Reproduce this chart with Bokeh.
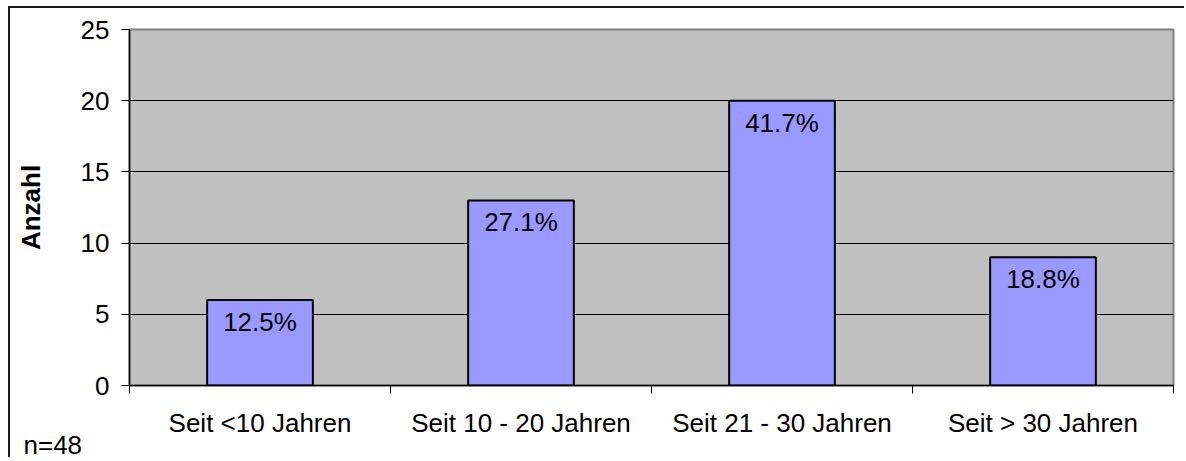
from bokeh.plotting import figure
from bokeh.models import ColumnDataSource, FixedTicker, Range1d, LabelSet, Title
from bokeh.core.properties import value
from bokeh.embed import file_html
from bokeh.resources import INLINE
import numpy as np

categories = ["Seit <10 Jahren", "Seit 10 - 20 Jahren", "Seit 21 - 30 Jahren", "Seit > 30 Jahren"]
counts = [6, 13, 20, 9]
percent_labels = ["12.5%", "27.1%", "41.7%", "18.8%"]
y_ticks = [0, 5, 10, 15, 20, 25]
n_label = "n=48"

FONT = "Liberation Sans"
FS = "26px"

xpos = np.arange(len(categories)) + 0.5
src = ColumnDataSource(dict(x=xpos, top=counts, lab=percent_labels))

p = figure(width=1176, height=451, output_backend="svg", toolbar_location=None,
           x_range=Range1d(0, len(categories)), y_range=Range1d(0, 25),
           min_border_left=119, min_border_right=13, min_border_top=21, min_border_bottom=74)
p.styles = {"border-top": "2px solid #1a1a1a", "border-left": "2px solid #1a1a1a",
            "margin-left": "8px", "margin-top": "6px"}

p.background_fill_color = "#C0C0C0"
p.border_fill_color = "white"
p.outline_line_color = "#808080"
p.outline_line_width = 2

p.vbar(x="x", top="top", width=0.405, bottom=0, source=src,
       fill_color="#9999FF", line_color="black", line_width=2)

p.add_layout(LabelSet(x="x", y="top", text="lab", source=src, y_offset=-31,
                      text_align="center", text_baseline="alphabetic",
                      text_font=value(FONT), text_font_size=value(FS), text_color="black"))

# y axis
p.yaxis.ticker = FixedTicker(ticks=y_ticks)
p.yaxis.minor_tick_line_color = None
p.yaxis.major_tick_in = 0
p.yaxis.major_tick_out = 8
p.yaxis.major_label_standoff = 12
p.yaxis.major_label_text_font = FONT
p.yaxis.major_label_text_font_size = FS
p.yaxis.major_label_text_color = "black"
p.yaxis.axis_line_color = "black"
p.yaxis.axis_line_width = 1.5
p.yaxis.axis_label = "Anzahl"
p.yaxis.axis_label_text_font = FONT
p.yaxis.axis_label_text_font_size = FS
p.yaxis.axis_label_text_font_style = "bold"
p.yaxis.axis_label_text_color = "black"
p.yaxis.axis_label_standoff = 32

# x axis
p.xaxis.ticker = FixedTicker(ticks=list(xpos), minor_ticks=list(range(len(categories) + 1)))
p.xaxis.major_label_overrides = {float(x): c for x, c in zip(xpos, categories)}
p.xaxis.major_tick_line_color = None
p.xaxis.major_tick_out = 8
p.xaxis.minor_tick_in = 0
p.xaxis.minor_tick_out = 8
p.xaxis.minor_tick_line_color = "black"
p.xaxis.major_label_standoff = 14
p.xaxis.major_label_text_font = FONT
p.xaxis.major_label_text_font_size = FS
p.xaxis.major_label_text_color = "black"
p.xaxis.axis_line_color = "black"
p.xaxis.axis_line_width = 1.5

p.xgrid.grid_line_color = None
p.ygrid.ticker = FixedTicker(ticks=y_ticks[1:-1])
p.ygrid.grid_line_color = "black"
p.ygrid.grid_line_width = 1

# sample size note, bottom-left
p.add_layout(Title(text=n_label, align="left", offset=-106, standoff=-22, vertical_align="top",
                   text_font=FONT, text_font_size=FS, text_font_style="normal",
                   text_color="black"), "below")

open("out.html", "w").write(file_html(p, INLINE))
